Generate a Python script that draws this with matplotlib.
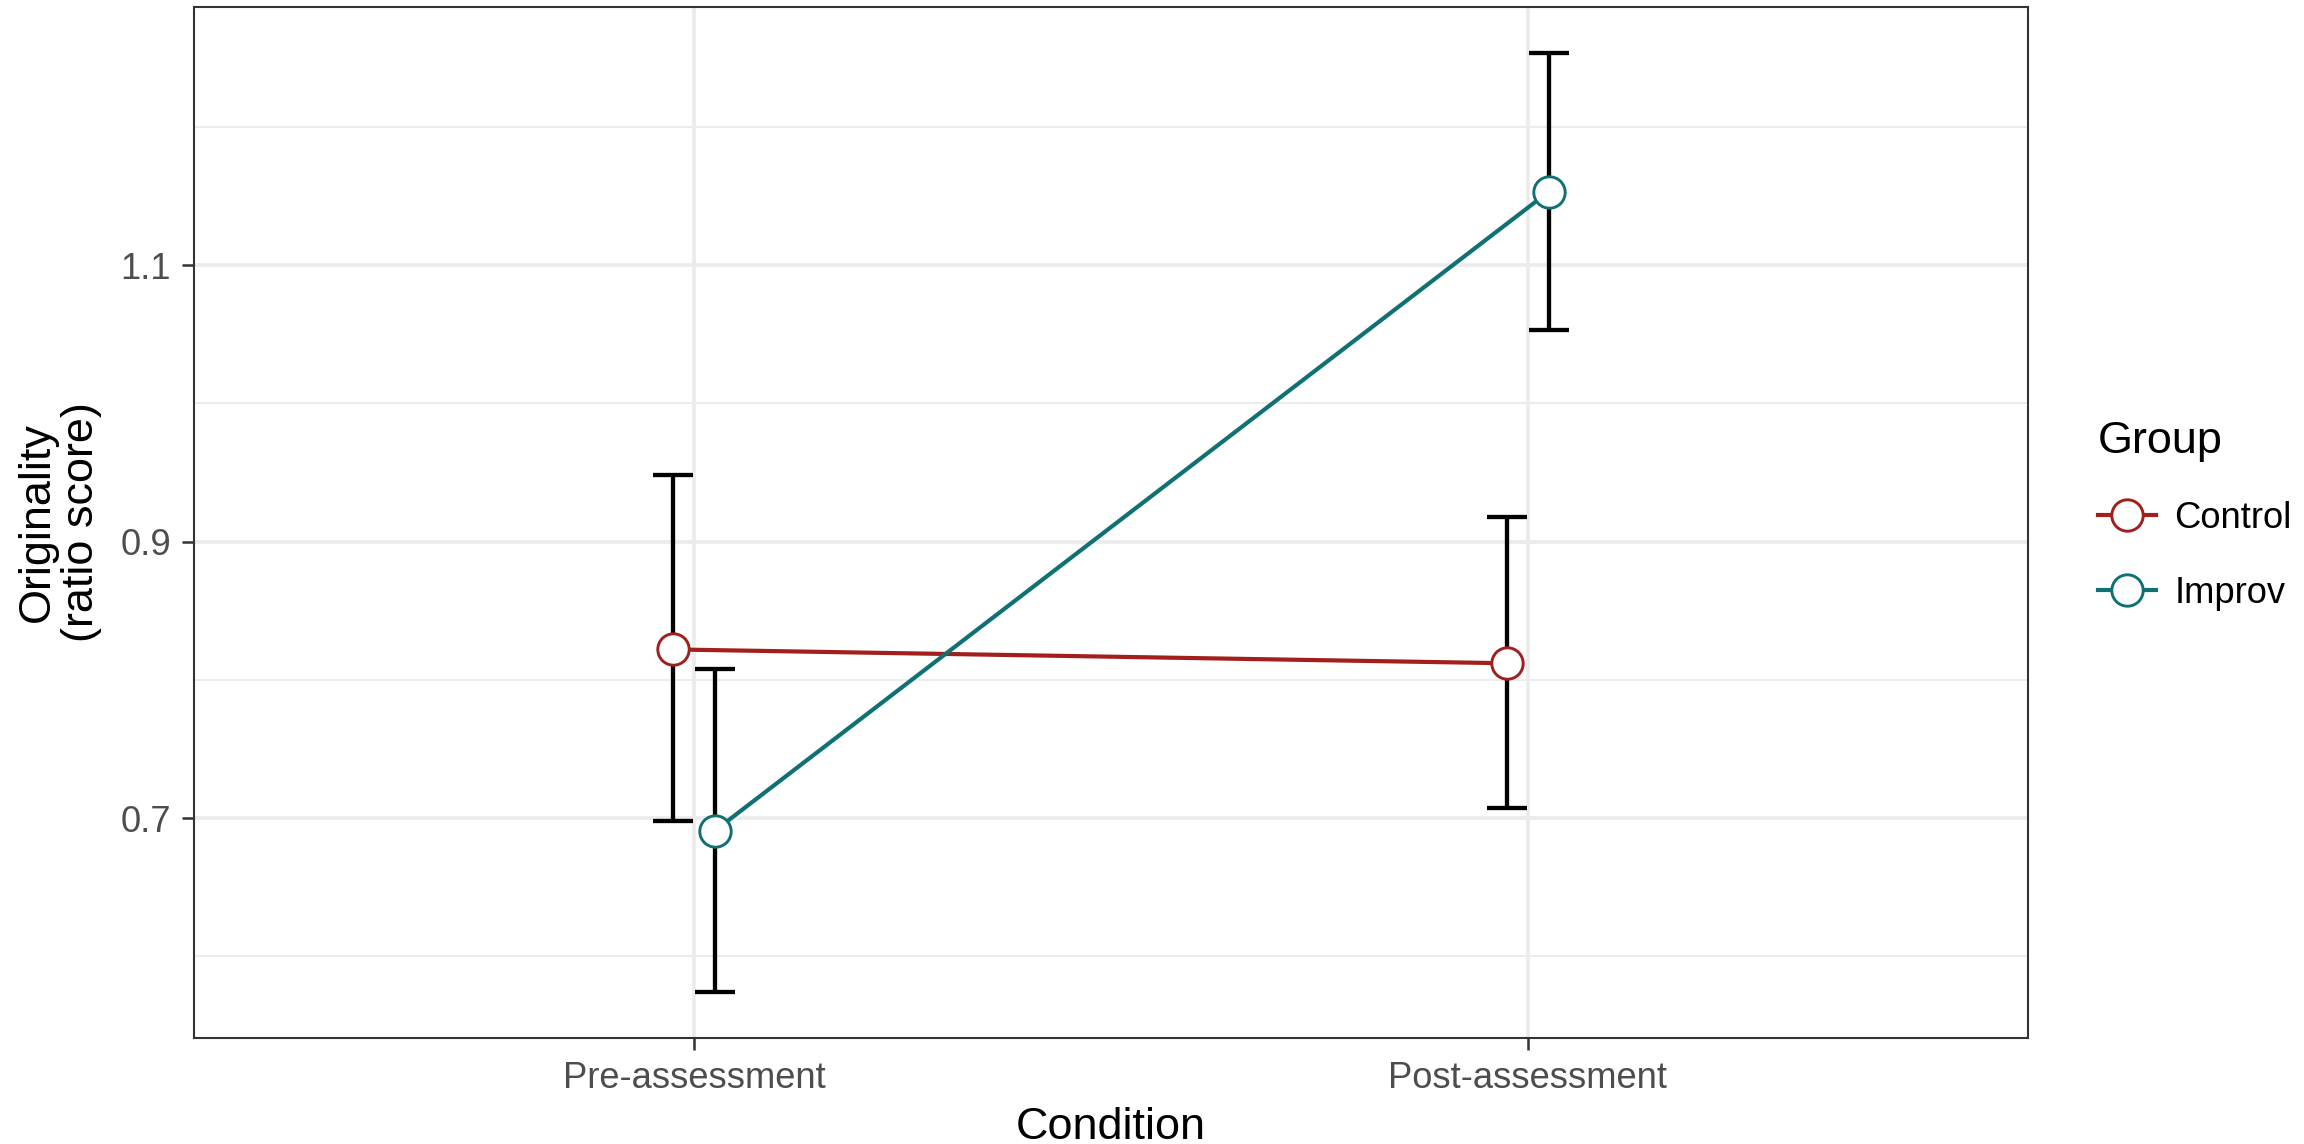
import matplotlib
matplotlib.use("Agg")
import matplotlib.pyplot as plt
from matplotlib.lines import Line2D
import numpy as np

plt.rcParams['font.family'] = ['Liberation Sans', 'DejaVu Sans']

# data
conditions = ["Pre-assessment", "Post-assessment"]
groups = ["Control", "Improv"]
colors = {"Control": "#A11F1C", "Improv": "#0F7173"}
means = {"Control": [0.822, 0.812], "Improv": [0.691, 1.153]}
lower = {"Control": [0.698, 0.707], "Improv": [0.574, 1.053]}
upper = {"Control": [0.948, 0.918], "Improv": [0.808, 1.253]}
dodge = {"Control": -0.025, "Improv": 0.025}

fig = plt.figure(figsize=(11.52, 5.72), dpi=200)
ax = fig.add_axes([194 / 2304, 1 - 1038 / 1144, 1834 / 2304, 1031 / 1144])

x = np.arange(1, len(conditions) + 1)

# error bars first, then lines, then points on top
for g in groups:
    xs = x + dodge[g]
    m = np.array(means[g])
    err = [m - np.array(lower[g]), np.array(upper[g]) - m]
    ax.errorbar(xs, m, yerr=err, fmt='none', ecolor='black',
                elinewidth=1.55, capsize=7.2, capthick=1.55, zorder=3)
for g in groups:
    xs = x + dodge[g]
    ax.plot(xs, means[g], '-', color=colors[g], lw=1.5, zorder=4)
    ax.plot(xs, means[g], 'o', ms=11.3, mfc='white', mec=colors[g],
            mew=1.05, zorder=5)

ax.set_xlim(0.4, 2.6)
ax.set_ylim(0.541, 1.2866)
ax.set_xticks(x)
ax.set_xticklabels(conditions)
ax.set_yticks([0.7, 0.9, 1.1])
ax.set_yticks([0.6, 0.8, 1.0, 1.2], minor=True)
ax.set_yticklabels(["0.7", "0.9", "1.1"])

# grid, theme_bw style
ax.grid(which='major', color='#EBEBEB', lw=1.3, zorder=0)
ax.grid(which='minor', axis='y', color='#EBEBEB', lw=0.65, zorder=0)
ax.set_axisbelow(True)
for s in ax.spines.values():
    s.set_color('#333333')
    s.set_linewidth(0.75)
ax.tick_params(which='major', length=4.3, width=0.9, color='#333333',
               labelsize=13.1, labelcolor='#4D4D4D', pad=4)
ax.tick_params(which='minor', length=0)

ax.set_xlabel("Condition", fontsize=16.2)
ax.xaxis.set_label_coords(0.5, -0.087)
ax.xaxis.label.set_va('center')
ax.set_ylabel("Originality\n(ratio score)", fontsize=16.2, linespacing=1.1)
ax.yaxis.set_label_coords(-0.0735, 0.5)
ax.yaxis.label.set_va('center')

handles = [Line2D([], [], color=colors[g], lw=1.5, marker='o', ms=11.3,
                  mfc='white', mec=colors[g], mew=1.05) for g in groups]
leg = fig.legend(handles, groups, title="Group", loc='center left',
                 bbox_to_anchor=(2098 / 2304, 1 - 516 / 1144), frameon=False,
                 fontsize=13.1, title_fontsize=16.2, handlelength=1.6,
                 handletextpad=0.5, labelspacing=1.1, alignment='left',
                 borderaxespad=0, borderpad=0)
leg._legend_box.sep = 14

fig.savefig("out.png", dpi=200)
